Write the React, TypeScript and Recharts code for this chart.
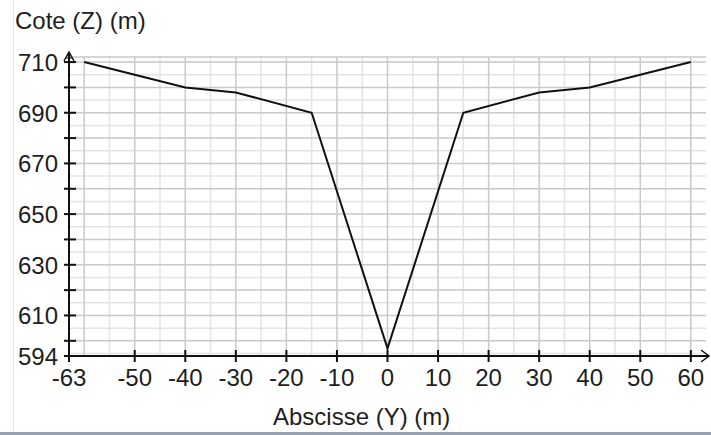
import { LineChart, Line, XAxis, YAxis, CartesianGrid, ReferenceDot } from 'recharts';

// profile points: abscisse Y (m) / cote Z (m)
const abscisses = [-60, -40, -30, -15, 0, 15, 30, 40, 60];
const cotes = [710, 700, 698, 690, 597, 690, 698, 700, 710];

const xTicks = [-63, -50, -40, -30, -20, -10, 0, 10, 20, 30, 40, 50, 60];
const yTicks = [594, 600, 610, 620, 630, 640, 650, 660, 670, 680, 690, 700, 710];
const yLabels = [594, 610, 630, 650, 670, 690, 710];

const xMajorGrid = [-60, -50, -40, -30, -20, -10, 0, 10, 20, 30, 40, 50, 60];
const xMinorGrid = [-55, -45, -35, -25, -15, -5, 5, 15, 25, 35, 45, 55];
const yMajorGrid = [600, 610, 620, 630, 640, 650, 660, 670, 680, 690, 700, 710, 712];
const yMinorGrid = [595, 605, 615, 625, 635, 645, 655, 665, 675, 685, 695, 705];

const data = abscisses.map((y, i) => ({ y, z: cotes[i] }));

const font = '"Liberation Sans", Arial, sans-serif';
const textColor = '#1e1e1e';
const axisColor = '#111';

function XTick(props: any) {
  const { x, y, payload } = props;
  return (
    <g>
      <line x1={x} x2={x} y1={y - 6} y2={y + 6} stroke={axisColor} strokeWidth={2} />
      <text x={x} y={y + 30} textAnchor="middle" fill={textColor} fontSize={24} fontFamily={font}>
        {payload.value}
      </text>
    </g>
  );
}

function YTick(props: any) {
  const { x, y, payload } = props;
  const v = payload.value;
  return (
    <g>
      <line x1={x - 5} x2={x + 7} y1={y} y2={y} stroke={axisColor} strokeWidth={2} />
      {yLabels.includes(v) && (
        <text x={x - 11} y={y + 9} textAnchor="end" fill={textColor} fontSize={24} fontFamily={font}>
          {v}
        </text>
      )}
    </g>
  );
}

const rightArrow = (p: any) => (
  <g>
    <line x1={p.cx} x2={p.cx + 3} y1={p.cy} y2={p.cy} stroke={axisColor} strokeWidth={2} />
    <path d={`M${p.cx - 5},${p.cy - 6} L${p.cx + 3},${p.cy} L${p.cx - 5},${p.cy + 6}`} fill="none" stroke={axisColor} strokeWidth={1.5} />
  </g>
);

const topArrow = (p: any) => (
  <g>
    <line x1={p.cx} x2={p.cx} y1={p.cy} y2={p.cy - 5} stroke={axisColor} strokeWidth={2} />
    <path d={`M${p.cx - 5},${p.cy + 4} L${p.cx},${p.cy - 5} L${p.cx + 5},${p.cy + 4}`} fill="none" stroke={axisColor} strokeWidth={1.5} />
    <line x1={p.cx - 4} x2={p.cx + 4} y1={p.cy + 1} y2={p.cy + 1} stroke={axisColor} strokeWidth={1} />
  </g>
);

export default function App() {
  return (
    <div style={{ position: 'absolute', left: 0, top: 0, width: 711, height: 435, background: '#fff', fontFamily: font }}>
      <div style={{ position: 'absolute', left: 13, top: 0, width: 1, height: 432, background: '#e6e6e6' }} />
      <div style={{ position: 'absolute', left: 0, top: 432, width: 711, height: 3, background: '#96a2ae' }} />
      <div style={{ position: 'absolute', left: 15, top: 9, fontSize: 24, lineHeight: '24px', color: textColor, whiteSpace: 'nowrap' }}>
        Cote (Z) (m)
      </div>
      <div style={{ position: 'absolute', left: 273, top: 405, fontSize: 24, lineHeight: '24px', color: textColor, whiteSpace: 'nowrap' }}>
        Abscisse (Y) (m)
      </div>
      <LineChart width={711} height={435} data={data} margin={{ top: 57, right: 5, bottom: 0, left: 0 }} style={{ position: 'absolute', left: 0, top: 0 }}>
        <CartesianGrid stroke="#e3e3e3" strokeWidth={1.5} horizontalValues={yMinorGrid} verticalValues={xMinorGrid} />
        <CartesianGrid stroke="#c9c9c9" strokeWidth={1.5} horizontalValues={yMajorGrid} verticalValues={xMajorGrid} />
        <XAxis
          dataKey="y"
          type="number"
          domain={[-63, 63]}
          allowDataOverflow
          ticks={xTicks}
          interval={0}
          height={79}
          tickSize={0}
          tickMargin={0}
          tickLine={false}
          axisLine={{ stroke: axisColor, strokeWidth: 2 }}
          tick={XTick}
        />
        <YAxis
          type="number"
          domain={[594, 712]}
          allowDataOverflow
          ticks={yTicks}
          interval={0}
          width={69}
          tickSize={0}
          tickMargin={0}
          tickLine={false}
          axisLine={{ stroke: axisColor, strokeWidth: 2 }}
          tick={YTick}
        />
        <Line type="linear" dataKey="z" stroke="#111" strokeWidth={2} dot={false} isAnimationActive={false} />
        <ReferenceDot x={63} y={594} ifOverflow="visible" shape={rightArrow} />
        <ReferenceDot x={-63} y={712} ifOverflow="visible" shape={topArrow} />
      </LineChart>
    </div>
  );
}
